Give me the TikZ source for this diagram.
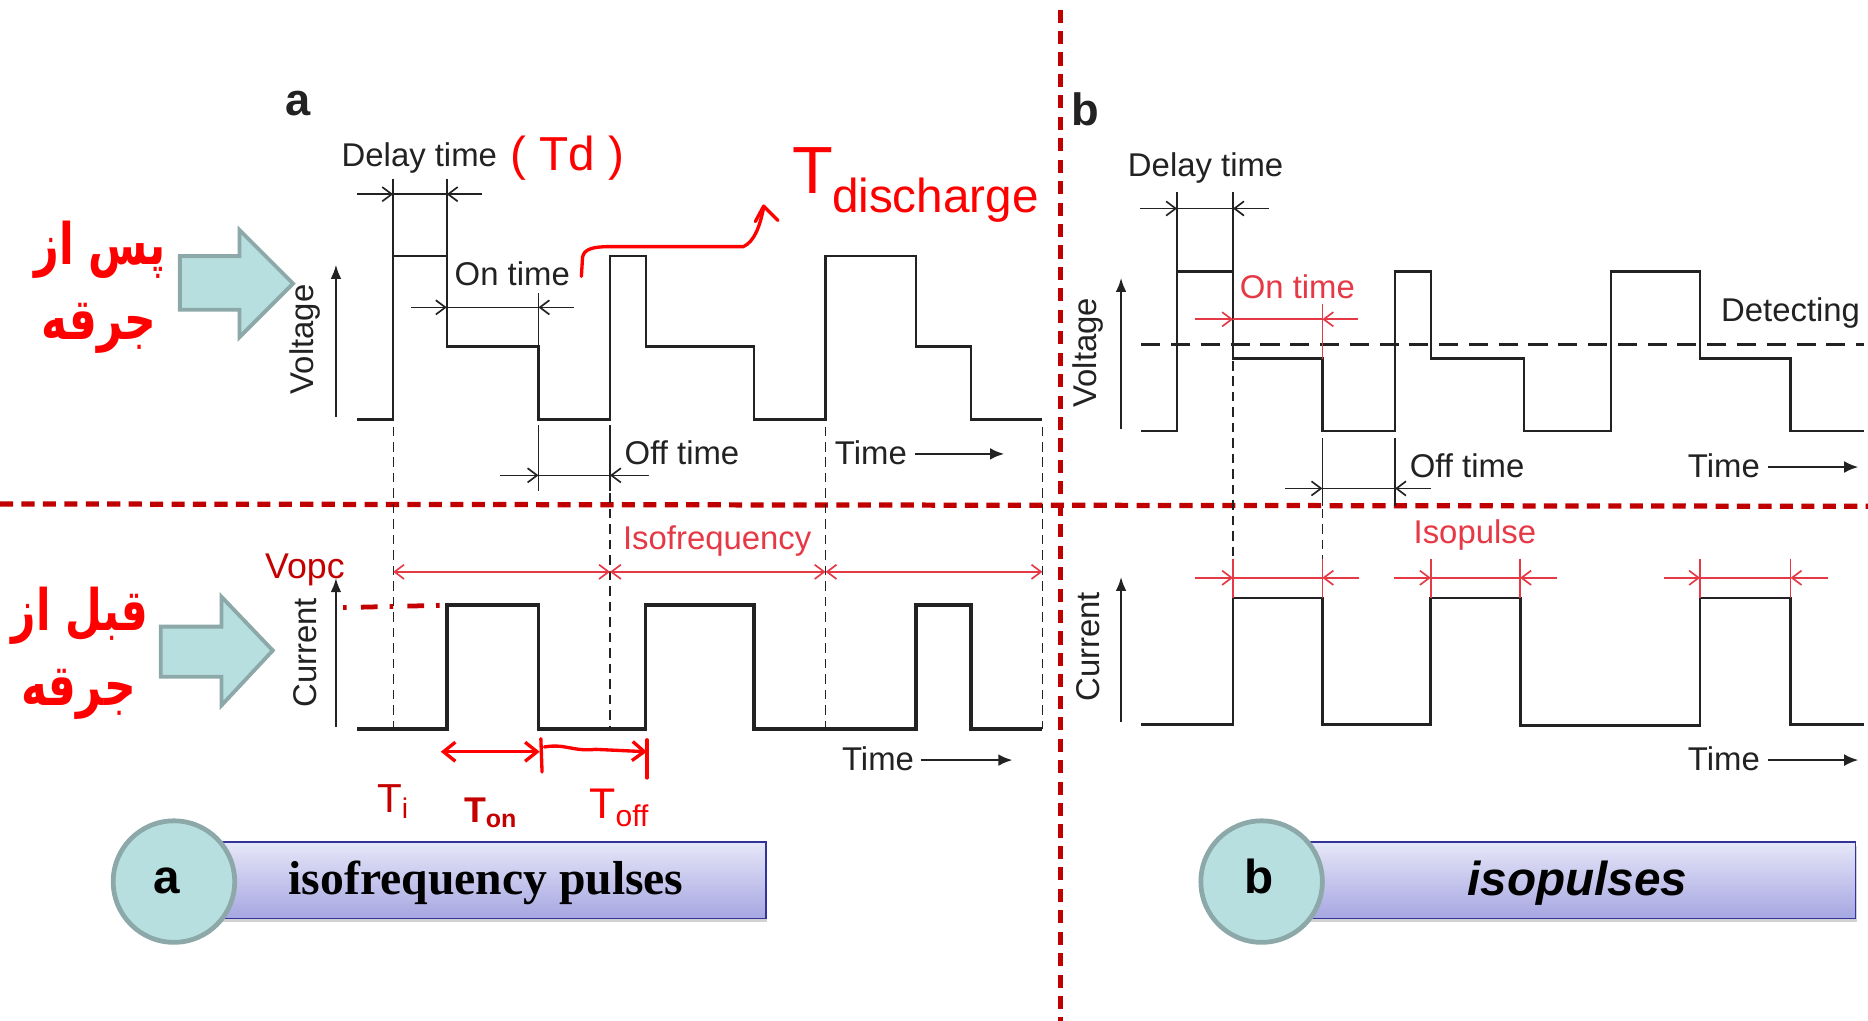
\documentclass[tikz,border=0pt]{standalone}
\usepackage{fontspec}
\setmainfont{Liberation Serif}
\setsansfont{Liberation Sans}
\newfontfamily\arabicfont[Script=Arabic]{DejaVu Sans}
\TeXXeTstate=1
\usetikzlibrary{arrows.meta,shadows}
\definecolor{divred}{HTML}{C00000}
\definecolor{dimred}{HTML}{E63946}
\definecolor{handred}{HTML}{FF0000}
\definecolor{handdark}{HTML}{C40000}
\definecolor{tealfill}{HTML}{B8DFE0}
\definecolor{tealedge}{HTML}{8CA8A8}
\definecolor{boxtop}{HTML}{E6E6F8}
\definecolor{boxbot}{HTML}{A6A6E2}
\definecolor{boxedge}{HTML}{33339A}
\definecolor{ink}{HTML}{222222}
\newcommand\lblfont{\sffamily\fontsize{13.8}{16}\selectfont}
% optional style, outer-left x, y, inner-left x, inner-right x, outer-right x
\newcommand\dimset[6][]{%
  \draw[dimln,#1,-{Straight Barb[length=4pt,width=6pt]}] (#2,#3) -- (#4,#3);
  \draw[dimln,#1] (#4,#3) -- (#5,#3);
  \draw[dimln,#1,-{Straight Barb[length=4pt,width=6pt]}] (#6,#3) -- (#5,#3);}
\begin{document}
\begin{tikzpicture}[x=0.5pt,y=-0.5pt,
  wave/.style={draw=ink,line width=1pt,line join=miter},
  wavethick/.style={draw=ink,line width=1.5pt,line join=miter},
  dimln/.style={draw=ink,line width=0.7pt},
  guide/.style={draw=ink,line width=0.5pt,dash pattern=on 4pt off 2.5pt},
  axisarr/.style={draw=ink,line width=1.1pt,-{Latex[length=6pt,width=4.5pt]}},
  timearr/.style={draw=ink,line width=1.1pt,-{Latex[length=6pt,width=5pt]}},
  lbl/.style={font=\lblfont,text=ink,inner sep=0pt},
  rlbl/.style={lbl,text=dimred},
  divider/.style={draw=divred,line width=2.2pt,dash pattern=on 5.5pt off 3.5pt},
  hand/.style={draw=handred,line width=1.4pt,line cap=round,line join=round},
  handtxt/.style={text=handred,inner sep=0pt,font=\sffamily},
  handdk/.style={text=handdark,inner sep=0pt,font=\sffamily},
  tealshape/.style={fill=tealfill,draw=tealedge,line width=1.6pt,line join=miter},
  persian/.style={text=handred,inner sep=0pt,font=\arabicfont\bfseries\fontsize{24}{28}\selectfont},
  titlebox/.style={draw=boxedge,line width=0.7pt,top color=boxtop,bottom color=boxbot,
     minimum width=231.5pt,minimum height=32pt,inner sep=0pt,
     drop shadow={shadow xshift=0.6pt,shadow yshift=-1.6pt,opacity=0.35}},
  badge/.style={circle,fill=tealfill,draw=tealedge,line width=2pt,minimum size=51pt,inner sep=0pt,
     font=\sffamily\bfseries\fontsize{20}{22}\selectfont}
]
\useasboundingbox (0,0) rectangle (1568,857);
\fill[white] (0,0) rectangle (1568,857);

% ---------------- dividers
\draw[divider] (890,8) -- (890,857);
\draw[divider] (0,423) -- (1568,425);

% ---------------- panel letters
\node[font=\sffamily\bfseries\fontsize{19}{21}\selectfont,text=ink,anchor=base,inner sep=0pt] (la) at (250.5,97) {a};
\node[font=\sffamily\bfseries\fontsize{19}{21}\selectfont,text=ink,anchor=base,inner sep=0pt] (lb) at (911,105) {b};

% ================= PANEL A : voltage
\draw[axisarr] (282,350) -- (282,222);
\node[lbl,rotate=90] (va) at (256,285) {Voltage};
\draw[wave] (300,352) -- (330,352) -- (330,215) -- (375,215) -- (375,291) -- (452,291) -- (452,352)
  -- (512,352) -- (512,215) -- (542,215) -- (542,291) -- (633,291) -- (633,352)
  -- (693,352) -- (693,215) -- (769,215) -- (769,291) -- (815,291) -- (815,352) -- (875,352);
% delay time
\node[lbl] (dta) at (352,133) {Delay time};
\draw[dimln] (330,150) -- (330,215);
\draw[dimln] (375,150) -- (375,215);
\dimset{300}{163}{330}{375}{405}
% on time
\node[lbl] (ota) at (430,230) {On time};
\draw[dimln] (452,246) -- (452,291);
\dimset{345}{258}{375}{452}{482}
% off time
\draw[dimln] (452,357) -- (452,412);
\draw[dimln] (512,357) -- (512,412);
\dimset{420}{399}{452}{512}{545}
\node[lbl,anchor=west] (ofa) at (524,380) {Off time};
\node[lbl] (tia) at (731,380) {Time};
\draw[timearr] (768,381) -- (843,381);
% guides
\draw[guide] (330,358) -- (330,612);
\draw[guide] (512,414) -- (512,612);
\draw[guide] (693,358) -- (693,612);
\draw[guide] (875,358) -- (875,612);

% ================= PANEL A : current
\draw[axisarr] (282,610) -- (282,485);
\node[lbl,rotate=90] (ca) at (256,548) {Current};
\draw[wavethick] (300,612) -- (375,612) -- (375,508) -- (452,508) -- (452,612) -- (542,612) -- (542,508)
  -- (633,508) -- (633,612) -- (769,612) -- (769,508) -- (815,508) -- (815,612) -- (875,612);
\node[rlbl] (isf) at (602,454) {Isofrequency};
\draw[dimln,draw=dimred,{Straight Barb[length=4pt,width=6pt]}-{Straight Barb[length=4pt,width=6pt]}] (330,480) -- (512,480);
\draw[dimln,draw=dimred,{Straight Barb[length=4pt,width=6pt]}-{Straight Barb[length=4pt,width=6pt]}] (512,480) -- (693,480);
\draw[dimln,draw=dimred,{Straight Barb[length=4pt,width=6pt]}-{Straight Barb[length=4pt,width=6pt]}] (693,480) -- (875,480);
\node[lbl] (tia2) at (737,637) {Time};
\draw[timearr] (773,638) -- (850,638);

% ---------------- handwritten notes (panel a)
\node[handtxt,font=\sffamily\fontsize{20}{24}\selectfont] (tdn) at (476,133) {( Td )};
\node[handtxt,font=\sffamily\fontsize{28}{30}\selectfont] (tbig) at (682,143) {T};
\node[handtxt,font=\sffamily\fontsize{20}{24}\selectfont,anchor=base west] (dis) at (698,178) {discharge};
\draw[hand] (488,232) -- (489,216) .. controls (490,209) and (498,207) .. (512,207) -- (624,207)
  .. controls (633,203) and (638,190) .. (641,174);
\draw[hand] (634,186) -- (641,173) -- (653,185);
\node[handdk,font=\sffamily\fontsize{15}{17}\selectfont] (vopc) at (256,478) {Vopc};
\draw[draw=handdark,line width=2pt,dash pattern=on 1.5pt off 6pt on 7pt off 5pt] (288,510) -- (375,508);
\draw[hand,{Straight Barb[length=5pt,width=8pt]}-{Straight Barb[length=5pt,width=8pt]}] (370,631) -- (453,631);
\draw[hand] (454,620) -- (455,648);
\draw[hand,-{Straight Barb[length=5pt,width=8pt]}] (457,627) .. controls (475,624) and (480,631) .. (500,629) -- (543,631);
\draw[hand] (543,621) -- (543,653);
\node[handdk,font=\sffamily\fontsize{17}{20}\selectfont] (tin) at (330,673) {T\textsubscript{i}};
\node[handdk,font=\sffamily\bfseries\fontsize{15}{18}\selectfont] (ton) at (412,682) {T\textsubscript{on}};
\node[handtxt,font=\sffamily\fontsize{18}{20}\selectfont] (toff) at (520,678) {T\textsubscript{off}};

% ---------------- Persian side notes and arrows
\node[persian] (pa1) at (84,210) {\scalebox{0.75}[1]{\beginR پس از\endR}};
\node[persian] (pa2) at (83,276) {\scalebox{0.77}[1]{\beginR جرقه\endR}};
\draw[tealshape] (151,215) -- (201,215) -- (201,193) -- (246,238) -- (201,283) -- (201,260) -- (151,260) -- cycle;
\node[persian] (pb1) at (67,517) {\scalebox{0.74}[1]{\beginR قبل از\endR}};
\node[persian] (pb2) at (66,583) {\scalebox{0.77}[1]{\beginR جرقه\endR}};
\draw[tealshape] (135,526) -- (186,526) -- (186,501) -- (229,546) -- (186,592) -- (186,568) -- (135,568) -- cycle;

% ================= PANEL B : voltage
\draw[axisarr] (941,360) -- (941,233);
\node[lbl,rotate=90] (vb) at (913,296) {Voltage};
\draw[wave] (958,362) -- (988,362) -- (988,228) -- (1035,228) -- (1035,301) -- (1110,301) -- (1110,362)
  -- (1171,362) -- (1171,228) -- (1201,228) -- (1201,301) -- (1279,301) -- (1279,362)
  -- (1352,362) -- (1352,228) -- (1427,228) -- (1427,301) -- (1503,301) -- (1503,362) -- (1565,362);
\draw[draw=ink,line width=1.3pt,dash pattern=on 8pt off 4.5pt] (958,289) -- (1565,289);
\node[lbl] (det) at (1503,263) {Detecting};
% delay time
\node[lbl] (dtb) at (1012,141) {Delay time};
\draw[dimln] (988,161) -- (988,228);
\draw[dimln] (1035,161) -- (1035,228);
\dimset{957}{175}{988}{1035}{1065}
% on time (red)
\node[rlbl] (otb) at (1089,241) {On time};
\draw[dimln,draw=dimred] (1110,255) -- (1110,301);
\dimset[draw=dimred]{1003}{268}{1035}{1110}{1140}
% off time
\draw[dimln] (1110,368) -- (1110,425);
\draw[dimln] (1171,368) -- (1171,425);
\dimset{1079}{410}{1110}{1171}{1201}
\node[lbl,anchor=west] (ofb) at (1183,391) {Off time};
\node[lbl] (tib) at (1447,391) {Time};
\draw[timearr] (1484,392) -- (1560,392);
% guides
\draw[guide] (1035,303) -- (1035,469);
\draw[guide] (1110,427) -- (1110,469);

% ================= PANEL B : current
\draw[axisarr] (941,606) -- (941,484);
\node[lbl,rotate=90] (cb) at (913,543) {Current};
\draw[wave,line width=1.2pt] (958,608) -- (1035,608) -- (1035,502) -- (1110,502) -- (1110,608) -- (1201,608) -- (1201,502)
  -- (1276,502) -- (1276,609) -- (1427,609) -- (1427,502) -- (1503,502) -- (1503,608) -- (1565,608);
\node[rlbl] (isp) at (1238,449) {Isopulse};
\foreach \l/\r in {1035/1110,1201/1276,1427/1503}{
  \draw[dimln,draw=dimred] (\l,469) -- (\l,502);
  \draw[dimln,draw=dimred] (\r,469) -- (\r,502);
}
\dimset[draw=dimred]{1003}{485}{1035}{1110}{1141}
\dimset[draw=dimred]{1170}{485}{1201}{1276}{1307}
\dimset[draw=dimred]{1397}{485}{1427}{1503}{1534}
\node[lbl] (tib2) at (1447,637) {Time};
\draw[timearr] (1484,638) -- (1560,638);

% ================= bottom title boxes
\node[titlebox] (boxa) at (411.5,739) {};
\node[font=\rmfamily\bfseries\fontsize{20}{24}\selectfont,text=black,anchor=base,inner sep=0pt] (ta) at (408,751) {isofrequency pulses};
\node[badge] (circa) at (146,740) {};
\node[font=\sffamily\bfseries\fontsize{20}{22}\selectfont,text=black,anchor=base,inner sep=0pt] (ca1) at (140,750) {a};
\node[titlebox] (boxb) at (1326,739) {};
\node[font=\sffamily\bfseries\itshape\fontsize{20}{24}\selectfont,text=black,anchor=base,inner sep=0pt] (tb) at (1324,752) {isopulses};
\node[badge] (circb) at (1059,740) {};
\node[font=\sffamily\bfseries\fontsize{20}{22}\selectfont,text=black,anchor=base,inner sep=0pt] (cb1) at (1057,750) {b};
\end{tikzpicture}
\end{document}
